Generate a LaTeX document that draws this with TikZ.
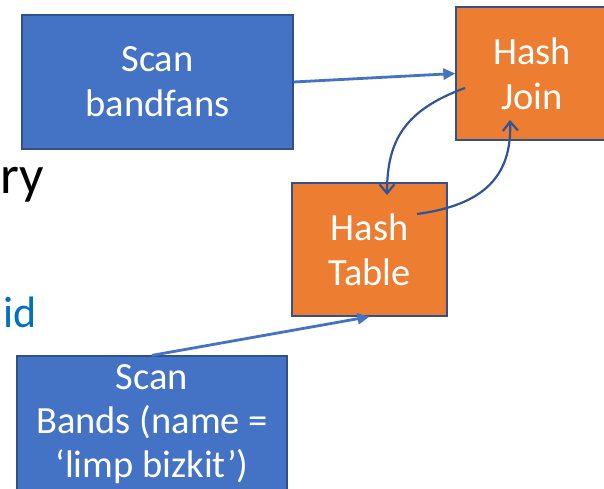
\documentclass[tikz,border=0pt]{standalone}
\usepackage{fontspec}
\setmainfont{Carlito}
\usetikzlibrary{arrows.meta}
\definecolor{boxblue}{HTML}{4472C4}
\definecolor{edgeblue}{HTML}{2F528F}
\definecolor{boxorange}{HTML}{ED7D31}
\definecolor{curveblue}{HTML}{2F5597}
\definecolor{titleblue}{HTML}{0070C0}
\begin{document}
\begin{tikzpicture}[x=1pt,y=-1pt,
  opbox/.style={draw=edgeblue, line width=1.3pt, fill=#1, text=white,
    font=\fontsize{38.5}{45}\selectfont, align=center, inner sep=0pt},
  straightarrow/.style={draw=boxblue, line width=2.8pt, -{Triangle[length=12pt,width=11pt]}},
  bendarrow/.style={draw=curveblue, line width=2.2pt, -{Straight Barb[length=9pt,width=15pt]}},
  bigtext/.style={anchor=base west, inner sep=0pt}
]
\useasboundingbox (0,0) rectangle (604,489);
\clip (0,0) rectangle (604,489);
\fill[white] (0,0) rectangle (604,489);

\node[bigtext, font=\fontsize{54}{60}\selectfont] (ry) at (0,193) {ry};
\node[bigtext, text=titleblue, font=\fontsize{44}{50}\selectfont] (id) at (3,327) {id};

\node[opbox=boxblue, minimum width=271pt, minimum height=134pt] (scanbf) at (157.5,82) {Scan\\bandfans};
\node[opbox=boxorange, minimum width=152pt, minimum height=133pt] (hj) at (532,73.5) {Hash\\Join};
\node[opbox=boxorange, minimum width=155pt, minimum height=133pt] (ht) at (369.5,249.5) {Hash\\Table};
\node[opbox=boxblue, minimum width=270pt, minimum height=136pt, font=\fontsize{38.5}{44}\selectfont] (scanb) at (152,424) {Scan\\Bands (name =\\‘limp bizkit’)};

\coordinate (hjout) at (465,88);
\coordinate (htin) at (387,195);
\coordinate (htout) at (417,214);
\coordinate (hjin) at (510,120);

\draw[straightarrow] (scanbf.east) -- (hj.west);
\draw[straightarrow] (scanb.north) -- (ht.south);
\draw[bendarrow] (hjout) .. controls (405,110) and (387,140) .. (htin);
\draw[bendarrow] (htout) .. controls (485,205) and (512,175) .. (hjin);
\end{tikzpicture}
\end{document}
